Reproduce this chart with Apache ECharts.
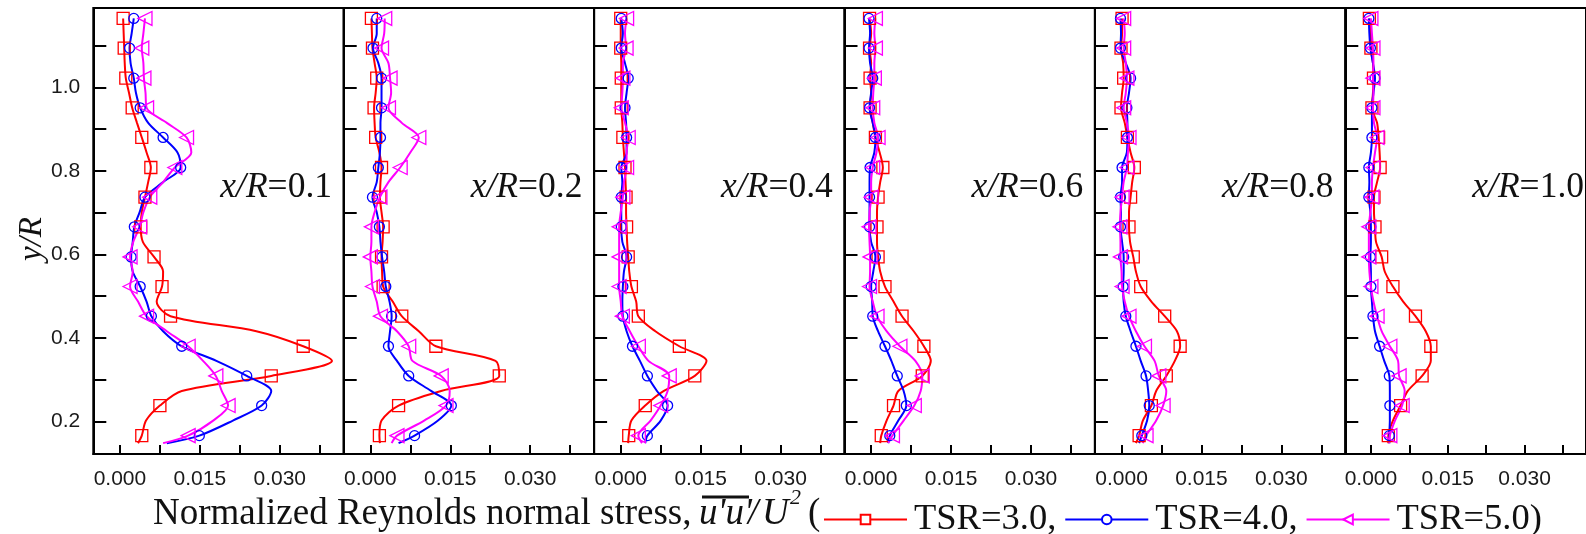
<!DOCTYPE html>
<html>
<head>
<meta charset="utf-8">
<script src="https://cdn.jsdelivr.net/npm/echarts@6/dist/echarts.min.js"></script>
<style>
  html, body { margin: 0; padding: 0; background: #fff; }
  #chart { width: 1586px; height: 534px; }
</style>
</head>
<body>
<div id="chart"></div>
<script>
// ---- data ----
const Y_LEVELS = [1.165, 1.129, 1.094, 1.058, 1.022, 0.987, 0.951, 0.915, 0.880, 0.844, 0.808, 0.773, 0.737, 0.701, 0.666, 0.630, 0.594, 0.559, 0.523, 0.487, 0.452, 0.416, 0.380, 0.345, 0.309, 0.273, 0.238, 0.202, 0.166, 0.148];

const PANEL_LABELS = ['0.1', '0.2', '0.4', '0.6', '0.8', '1.0'];
const SERIES_NAMES = ['TSR=3.0', 'TSR=4.0', 'TSR=5.0'];

const P1_TSR3 = [0.0006, 0.0007, 0.0008, 0.0009, 0.0011, 0.0017, 0.0023, 0.0032, 0.0041, 0.0050, 0.0058, 0.0053, 0.0047, 0.0041, 0.0039, 0.0043, 0.0064, 0.0081, 0.0079, 0.0069, 0.0095, 0.0256, 0.0344, 0.0398, 0.0284, 0.0116, 0.0075, 0.0049, 0.0041, 0.0034];
const P1_TSR4 = [0.0026, 0.0022, 0.0018, 0.0020, 0.0026, 0.0030, 0.0038, 0.0053, 0.0081, 0.0108, 0.0114, 0.0081, 0.0047, 0.0037, 0.0027, 0.0024, 0.0021, 0.0024, 0.0038, 0.0050, 0.0059, 0.0081, 0.0116, 0.0181, 0.0238, 0.0284, 0.0266, 0.0212, 0.0149, 0.0088];
const P1_TSR5 = [0.0047, 0.0044, 0.0041, 0.0044, 0.0045, 0.0048, 0.0050, 0.0088, 0.0125, 0.0134, 0.0103, 0.0081, 0.0056, 0.0044, 0.0037, 0.0025, 0.0019, 0.0024, 0.0019, 0.0034, 0.0050, 0.0088, 0.0128, 0.0156, 0.0180, 0.0191, 0.0203, 0.0175, 0.0128, 0.0081];

const P2_TSR3 = [0.0002, 0.0003, 0.0004, 0.0008, 0.0012, 0.0010, 0.0007, 0.0008, 0.0010, 0.0017, 0.0021, 0.0019, 0.0018, 0.0021, 0.0024, 0.0023, 0.0021, 0.0022, 0.0024, 0.0042, 0.0059, 0.0091, 0.0123, 0.0235, 0.0242, 0.0133, 0.0053, 0.0021, 0.0017, 0.0018];
const P2_TSR4 = [0.0012, 0.0012, 0.0005, 0.0015, 0.0021, 0.0021, 0.0021, 0.0019, 0.0019, 0.0018, 0.0015, 0.0012, 0.0004, 0.0012, 0.0017, 0.0019, 0.0022, 0.0026, 0.0029, 0.0036, 0.0040, 0.0037, 0.0034, 0.0050, 0.0072, 0.0114, 0.0152, 0.0127, 0.0083, 0.0053];
const P2_TSR5 = [0.0027, 0.0026, 0.0021, 0.0034, 0.0037, 0.0039, 0.0034, 0.0059, 0.0091, 0.0075, 0.0056, 0.0034, 0.0018, 0.0008, 0.0002, 0.0002, 0.0000, 0.0002, 0.0004, 0.0012, 0.0019, 0.0050, 0.0072, 0.0079, 0.0133, 0.0149, 0.0142, 0.0101, 0.0050, 0.0040];

const P3_TSR3 = [0.0000, 0.0000, 0.0000, 0.0001, 0.0001, 0.0001, 0.0001, 0.0003, 0.0004, 0.0006, 0.0008, 0.0009, 0.0010, 0.0010, 0.0011, 0.0012, 0.0014, 0.0016, 0.0020, 0.0029, 0.0033, 0.0065, 0.0110, 0.0161, 0.0139, 0.0081, 0.0046, 0.0020, 0.0015, 0.0014];
const P3_TSR4 = [0.0001, 0.0004, 0.0001, 0.0008, 0.0014, 0.0011, 0.0008, 0.0010, 0.0011, 0.0011, 0.0001, 0.0003, 0.0001, 0.0001, 0.0001, 0.0003, 0.0011, 0.0006, 0.0004, 0.0003, 0.0004, 0.0011, 0.0022, 0.0036, 0.0050, 0.0068, 0.0088, 0.0075, 0.0050, 0.0046];
const P3_TSR5 = [0.0011, 0.0008, 0.0010, 0.0004, 0.0004, 0.0003, 0.0001, 0.0008, 0.0014, 0.0011, 0.0011, 0.0006, 0.0004, 0.0000, -0.0003, -0.0003, -0.0003, -0.0003, -0.0003, 0.0000, 0.0003, 0.0017, 0.0033, 0.0052, 0.0091, 0.0088, 0.0075, 0.0056, 0.0033, 0.0040];

const P4_TSR3 = [-0.0003, 0.0000, -0.0003, 0.0000, -0.0002, 0.0000, -0.0002, 0.0003, 0.0008, 0.0016, 0.0022, 0.0017, 0.0013, 0.0011, 0.0011, 0.0011, 0.0013, 0.0017, 0.0026, 0.0042, 0.0058, 0.0080, 0.0099, 0.0112, 0.0096, 0.0051, 0.0042, 0.0029, 0.0019, 0.0017];
const P4_TSR4 = [-0.0004, -0.0002, -0.0004, -0.0002, 0.0003, 0.0000, -0.0003, 0.0003, 0.0008, 0.0006, -0.0002, -0.0003, -0.0003, -0.0003, -0.0003, 0.0000, 0.0008, 0.0004, 0.0000, 0.0002, 0.0003, 0.0013, 0.0026, 0.0038, 0.0049, 0.0061, 0.0066, 0.0051, 0.0035, 0.0032];
const P4_TSR5 = [0.0008, 0.0006, 0.0008, 0.0006, 0.0006, 0.0004, 0.0003, 0.0006, 0.0013, 0.0010, 0.0003, 0.0000, 0.0000, -0.0003, -0.0004, -0.0003, -0.0002, -0.0002, -0.0003, 0.0003, 0.0011, 0.0029, 0.0054, 0.0083, 0.0096, 0.0093, 0.0081, 0.0061, 0.0040, 0.0032];

const P5_TSR3 = [0.0001, 0.0001, -0.0001, 0.0003, 0.0004, 0.0001, -0.0001, 0.0006, 0.0011, 0.0017, 0.0024, 0.0020, 0.0017, 0.0014, 0.0014, 0.0016, 0.0022, 0.0027, 0.0036, 0.0056, 0.0081, 0.0104, 0.0110, 0.0100, 0.0084, 0.0065, 0.0056, 0.0040, 0.0033, 0.0027];
const P5_TSR4 = [-0.0002, -0.0001, -0.0002, 0.0008, 0.0017, 0.0014, 0.0010, 0.0011, 0.0011, 0.0010, 0.0001, 0.0001, -0.0002, -0.0001, -0.0002, 0.0001, 0.0004, 0.0004, 0.0003, 0.0004, 0.0008, 0.0017, 0.0027, 0.0036, 0.0046, 0.0050, 0.0052, 0.0048, 0.0038, 0.0033];
const P5_TSR5 = [0.0004, 0.0006, 0.0004, 0.0008, 0.0010, 0.0008, 0.0004, 0.0010, 0.0014, 0.0012, 0.0010, 0.0004, 0.0001, -0.0002, -0.0003, -0.0002, -0.0002, 0.0000, 0.0001, 0.0006, 0.0014, 0.0027, 0.0043, 0.0062, 0.0070, 0.0084, 0.0078, 0.0065, 0.0046, 0.0040];

const P6_TSR3 = [-0.0003, 0.0000, 0.0000, 0.0004, 0.0005, 0.0004, 0.0002, 0.0012, 0.0015, 0.0017, 0.0018, 0.0012, 0.0006, 0.0006, 0.0008, 0.0010, 0.0021, 0.0027, 0.0043, 0.0063, 0.0087, 0.0107, 0.0117, 0.0117, 0.0100, 0.0072, 0.0058, 0.0043, 0.0034, 0.0034];
const P6_TSR4 = [-0.0004, -0.0003, -0.0001, 0.0004, 0.0008, 0.0005, 0.0002, 0.0002, 0.0002, 0.0000, -0.0004, -0.0003, -0.0004, -0.0001, 0.0000, 0.0000, -0.0001, 0.0000, 0.0000, 0.0002, 0.0004, 0.0008, 0.0017, 0.0026, 0.0036, 0.0037, 0.0037, 0.0037, 0.0036, 0.0036];
const P6_TSR5 = [0.0000, 0.0002, 0.0004, 0.0005, 0.0004, 0.0005, 0.0004, 0.0006, 0.0012, 0.0008, 0.0004, 0.0002, 0.0002, -0.0001, -0.0004, -0.0004, -0.0004, -0.0003, 0.0000, 0.0005, 0.0012, 0.0021, 0.0037, 0.0053, 0.0055, 0.0066, 0.0061, 0.0047, 0.0037, 0.0036];

const X_TICKS = [0, 0.0075, 0.015, 0.0225, 0.03, 0.0375];
const X_TICK_LABELS = [0, 0.015, 0.03];
const Y_TICKS = [0.2, 0.3, 0.4, 0.5, 0.6, 0.7, 0.8, 0.9, 1.0, 1.1];
const Y_TICK_LABELS = [0.2, 0.4, 0.6, 0.8, 1.0];

// ---- layout / styles ----
const PANELS = [
  [P1_TSR3, P1_TSR4, P1_TSR5],
  [P2_TSR3, P2_TSR4, P2_TSR5],
  [P3_TSR3, P3_TSR4, P3_TSR5],
  [P4_TSR3, P4_TSR4, P4_TSR5],
  [P5_TSR3, P5_TSR4, P5_TSR5],
  [P6_TSR3, P6_TSR4, P6_TSR5]
];
const LEFT0 = 93.3, PW = 250.4, TOP = 8, PH = 446;
const STY = [
  { color: '#ff0000', symbol: 'rect', size: 12, rotate: 0 },
  { color: '#0000ff', symbol: 'circle', size: 10, rotate: 0 },
  { color: '#ff00ff', symbol: 'triangle', size: 14, rotate: 90 }
];
const SANS = '"Liberation Sans", Arial, sans-serif';
const SERIF = '"Liberation Serif", "Times New Roman", serif';
const TXT = '#111';

const grid = [], xAxis = [], yAxis = [], series = [], graphic = [];
PANELS.forEach((panel, p) => {
  grid.push({
    left: LEFT0 + PW * p, top: TOP, width: PW, height: PH,
    show: true, borderColor: '#000', borderWidth: 2, backgroundColor: 'transparent'
  });
  xAxis.push({
    type: 'value', gridIndex: p, min: -0.005, max: 0.042,
    axisLine: { show: true, onZero: false, lineStyle: { color: '#000', width: 2 } },
    axisTick: { show: true, inside: true, length: 9, customValues: X_TICKS, lineStyle: { color: '#000', width: 2 } },
    axisLabel: { show: true, customValues: X_TICK_LABELS, margin: 15, color: '#1a1a1a', fontSize: 21, fontFamily: SANS,
                 formatter: v => v.toFixed(3) },
    splitLine: { show: false }
  });
  yAxis.push({
    type: 'value', gridIndex: p, min: 0.122, max: 1.19,
    axisLine: { show: true, onZero: false, lineStyle: { color: '#000', width: 2 } },
    axisTick: { show: true, inside: true, length: 13, customValues: Y_TICKS, lineStyle: { color: '#000', width: 2 } },
    axisLabel: { show: p === 0, customValues: Y_TICK_LABELS, margin: 13, color: '#1a1a1a', fontSize: 21, fontFamily: SANS,
                 formatter: v => v.toFixed(1) },
    splitLine: { show: false }
  });
  panel.forEach((vals, s) => {
    const st = STY[s];
    series.push({
      type: 'line', name: SERIES_NAMES[s], xAxisIndex: p, yAxisIndex: p,
      smooth: 0.3,
      symbol: st.symbol, symbolSize: st.size, symbolRotate: st.rotate,
      lineStyle: { color: st.color, width: 2 },
      itemStyle: { color: 'rgba(255,255,255,0)', borderColor: st.color, borderWidth: 1.3 },
      emphasis: { disabled: true },
      animation: false,
      data: vals.map((v, i) => i % 2 === 0 ? [v, Y_LEVELS[i]] : { value: [v, Y_LEVELS[i]], symbol: 'none' })
    });
  });
  graphic.push({
    type: 'text', x: LEFT0 + PW * p + 127, y: 188, silent: true,
    style: {
      text: '{i|x/R}{n|=' + PANEL_LABELS[p] + '}',
      verticalAlign: 'middle',
      rich: {
        i: { font: 'italic 35.5px ' + SERIF, fill: TXT },
        n: { font: '35.5px ' + SERIF, fill: TXT }
      }
    }
  });
});

// axis titles
graphic.push({
  type: 'text', x: 32, y: 239, rotation: Math.PI / 2, silent: true,
  style: { text: 'y/R', font: 'italic 33px ' + SERIF, fill: TXT, align: 'center', verticalAlign: 'middle' }
});
graphic.push({
  type: 'text', x: 153, y: 514, silent: true,
  style: { text: 'Normalized Reynolds normal stress,', font: '37px ' + SERIF, fill: TXT, verticalAlign: 'middle' }
});
graphic.push({
  type: 'text', x: 699, y: 514, silent: true,
  style: { text: "u'u'", font: 'italic 37px ' + SERIF, fill: TXT, verticalAlign: 'middle' }
});
graphic.push({
  type: 'text', x: 748, y: 514, silent: true,
  style: { text: '/', font: 'italic 37px ' + SERIF, fill: TXT, verticalAlign: 'middle' }
});
graphic.push({
  type: 'text', x: 762, y: 514, silent: true,
  style: { text: 'U', font: 'italic 37px ' + SERIF, fill: TXT, verticalAlign: 'middle' }
});
graphic.push({
  type: 'text', x: 790, y: 498, silent: true,
  style: { text: '2', font: 'italic 22px ' + SERIF, fill: TXT, verticalAlign: 'middle' }
});
graphic.push({
  type: 'text', x: 808, y: 514, silent: true,
  style: { text: '(', font: '37px ' + SERIF, fill: TXT, verticalAlign: 'middle' }
});
graphic.push({
  type: 'line', silent: true,
  shape: { x1: 702, y1: 497, x2: 749, y2: 497 },
  style: { stroke: TXT, lineWidth: 3 }
});

const chart = echarts.init(document.getElementById('chart'), null, { renderer: 'canvas' });
chart.setOption({
  backgroundColor: '#fff',
  animation: false,
  grid, xAxis, yAxis, series, graphic,
  legend: {
    left: 818, top: 496, itemWidth: 83, itemHeight: 12, itemGap: 8, selectedMode: false,
    data: SERIES_NAMES.map(n => ({ name: n, itemStyle: { color: '#fff' } })),
    formatter: n => n + (n === 'TSR=5.0' ? ')' : ','),
    textStyle: { fontFamily: SERIF, fontSize: 36.5, color: TXT, padding: [0, 0, 0, 2] }
  }
});
</script>
</body>
</html>
